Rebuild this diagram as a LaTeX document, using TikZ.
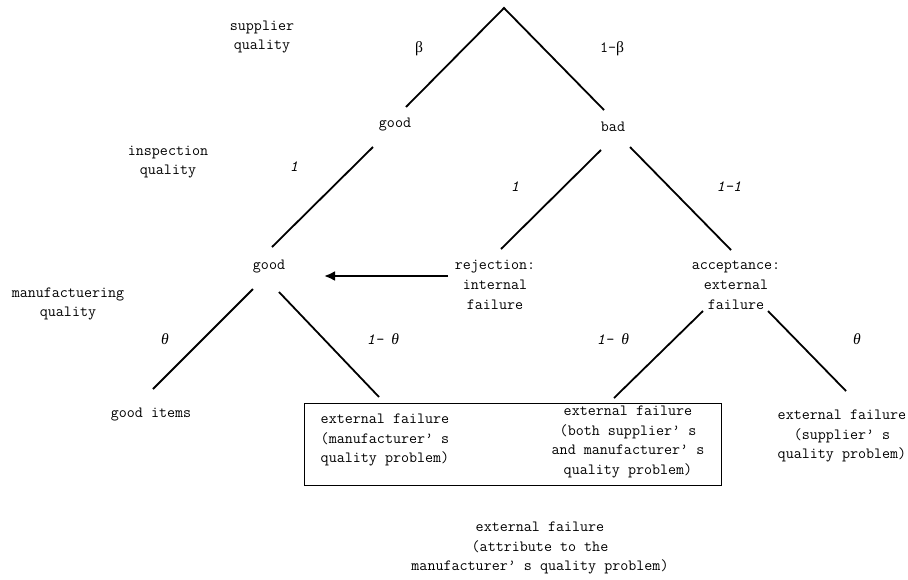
\documentclass[tikz,border=0pt]{standalone}
\usepackage{fontspec}
\newfontfamily\greekfam{Liberation Serif}
\usetikzlibrary{arrows.meta}
\tikzset{
  lbl/.style={font=\ttfamily\fontsize{15.6}{19.8}\selectfont, inner sep=0pt, align=center},
  prob/.style={font=\ttfamily\itshape\fontsize{15.6}{19.8}\selectfont, inner sep=0pt},
  branch/.style={line width=1.8pt},
  bigarrow/.style={line width=2.4pt, -{Latex[length=11pt,width=10pt]}},
  framebox/.style={draw, line width=0.9pt, inner sep=0pt}
}
\begin{document}
\begin{tikzpicture}[x=1pt,y=-1pt]
\useasboundingbox (0,0) rectangle (908,579);
% coordinates for branch ends
\coordinate (root) at (504,8);
\coordinate (sgA) at (406,107);
\coordinate (sbA) at (604,110);
\coordinate (g1A) at (373,147);
\coordinate (g1B) at (272,247);
\coordinate (b1A) at (601,150);
\coordinate (b1B) at (501,249);
\coordinate (b2A) at (630,147);
\coordinate (b2B) at (731,250);
\coordinate (m1A) at (253,289);
\coordinate (m1B) at (153,389);
\coordinate (m2A) at (279,292);
\coordinate (m2B) at (379,397);
\coordinate (a1A) at (703,311);
\coordinate (a1B) at (614,398);
\coordinate (a2A) at (768,311);
\coordinate (a2B) at (846,391);

% texts
\node[lbl] (supq) at (262,37) {supplier\\quality};
\node[lbl] (insq) at (168,162) {inspection\\quality};
\node[lbl] (manq) at (68,304) {manufactuering\\quality};

\node[lbl] (good1) at (395,125) {good};
\node[lbl] (bad1) at (613,127) {bad};
\node[lbl] (good2) at (269,267) {good};
\node[lbl] (rej) at (495,285) {rejection:\\internal\\failure};
\node[lbl] (acc) at (736,285) {acceptance:\\external\\failure};
\node[lbl] (gitems) at (151,415) {good items};

\node[framebox, minimum width=417pt, minimum height=82pt] (box) at (512.5,444) {};
\node[lbl] (ef1) at (385,440) {external failure\\(manufacturer’ s\\quality problem)};
\node[lbl] (ef2) at (628,442) {external failure\\(both supplier’ s\\and manufacturer’ s\\quality problem)};
\node[lbl] (ef3) at (842,436) {external failure\\(supplier’ s\\quality problem)};
\node[lbl] (ef4) at (540,548) {external failure\\(attribute to the\\manufacturer’ s quality problem)};

% probabilities
\node[lbl] (pb) at (419,49) {{\greekfam β}};
\node[lbl] (pnb) at (612,49) {1-{\greekfam β}};
\node[prob] (pi1) at (294,167) {1};
\node[prob] (pi2) at (515,187) {1};
\node[prob] (pi3) at (729,187) {1-1};
\node[prob] (pt1) at (165,339) {{\greekfam\itshape θ}};
\node[prob] (pt2) at (383,339) {1- {\greekfam\itshape θ}};
\node[prob] (pt3) at (613,339) {1- {\greekfam\itshape θ}};
\node[prob] (pt4) at (857,339) {{\greekfam\itshape θ}};

% branches
\draw[branch] (sgA) -- (root) -- (sbA);
\draw[branch] (g1A) -- (g1B);
\draw[branch] (b1A) -- (b1B);
\draw[branch] (b2A) -- (b2B);
\draw[branch] (m1A) -- (m1B);
\draw[branch] (m2A) -- (m2B);
\draw[branch] (a1A) -- (a1B);
\draw[branch] (a2A) -- (a2B);

% arrow
\coordinate (arS) at (448,276);
\coordinate (arE) at (324,276);
\draw[bigarrow] (arS) -- (arE);
\end{tikzpicture}
\end{document}
